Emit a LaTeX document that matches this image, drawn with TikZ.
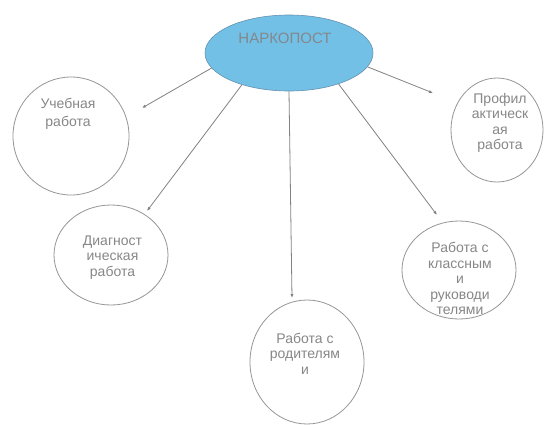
\documentclass[tikz,border=0pt]{standalone}
\usepackage{fontspec}
\setmainfont{Liberation Sans}
\usetikzlibrary{shapes.geometric,arrows.meta}
\definecolor{elfill}{RGB}{115,192,230}
\definecolor{eldraw}{RGB}{100,145,175}
\definecolor{txtgray}{RGB}{135,135,135}
\definecolor{linegray}{RGB}{130,130,130}
\definecolor{circgray}{RGB}{150,150,150}
\begin{document}
\begin{tikzpicture}[x=1pt,y=-1pt,
  bubble/.style={draw=circgray,line width=0.8pt,ellipse,inner sep=0pt},
  lbl/.style={align=center,text=txtgray,font=\fontsize{14}{15.5}\selectfont,inner sep=0pt},
  conn/.style={draw=linegray,line width=0.8pt,-{Latex[length=4pt,width=3.2pt]}}]
\useasboundingbox[fill=white] (0,0) rectangle (547,424);
% central ellipse
\node[ellipse,fill=elfill,draw=eldraw,line width=0.6pt,minimum width=168pt,minimum height=76pt,inner sep=0pt] (el) at (289,53) {};
\node[text=txtgray!85!eldraw,font=\fontsize{15}{16}\selectfont,inner sep=0pt] (elt) at (285,38) {НАРКОПОСТ};
% circles
\node[bubble,minimum width=116pt,minimum height=118pt] (c1) at (71,136) {};
\node[bubble,minimum width=92pt,minimum height=104pt] (c2) at (497,130) {};
\node[bubble,minimum width=114pt,minimum height=100pt] (c3) at (111,255) {};
\node[bubble,minimum width=114pt,minimum height=98pt] (c4) at (459,270) {};
\node[bubble,minimum width=114pt,minimum height=124pt] (c5) at (307,362) {};
% labels
\node[lbl,font=\fontsize{14}{18}\selectfont] (t1) at (68,114) {Учебная\\работа};
\node[lbl] (t2) at (500,123) {Профил\\актическ\\ая\\работа};
\node[lbl] (t3) at (112.5,257.5) {Диагност\\ическая\\работа};
\node[lbl] (t4) at (460,278.5) {Работа с\\классным\\и\\руководи\\телями};
\node[lbl] (t5) at (305,353.5) {Работа с\\родителям\\и};
% arrow tips
\coordinate (e1) at (142,108);
\coordinate (e2) at (433,93);
\coordinate (e3) at (147,211);
\coordinate (e4) at (437,215);
\coordinate (e5) at (292,298);
% connectors
\draw[conn] (el.191) -- (e1);
\draw[conn] (el.350) -- (e2);
\draw[conn] (el.214) -- (e3);
\draw[conn] (el.328) -- (e4);
\draw[conn] (el.270) -- (e5);
\end{tikzpicture}
\end{document}
